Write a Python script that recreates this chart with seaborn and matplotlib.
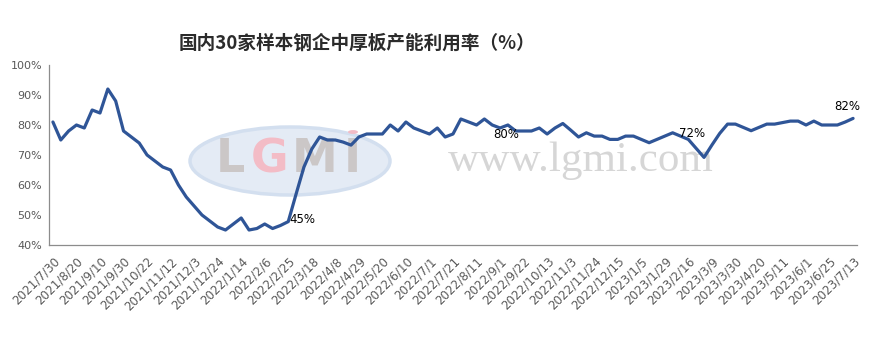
import numpy as np
import pandas as pd
import matplotlib
matplotlib.use("Agg")
import matplotlib.pyplot as plt
from matplotlib.patches import Ellipse, Circle
import seaborn as sns

# ---------------- data ----------------
values = [81, 75, 78, 80, 79, 85, 84, 92, 88, 78,
          76, 74, 70, 68, 66, 65, 60, 56, 53, 50,
          48, 46, 45, 47, 49, 45, 45.5, 47, 45.5, 46.5,
          47.8, 57, 66, 72, 76, 75, 75, 74.3, 73.3, 76,
          77, 77, 77, 80, 78, 81, 79, 78, 77, 79,
          76, 77, 82, 81, 80, 82, 80, 79, 80, 78,
          78, 78, 79, 77, 79, 80.5, 78.3, 76, 77.4, 76.3,
          76.3, 75.2, 75.2, 76.3, 76.3, 75.2, 74.1, 75.2, 76.3, 77.4,
          76.3, 75.2, 72.2, 69.2, 73.3, 77.2, 80.3, 80.3, 79.2, 78.1,
          79.2, 80.3, 80.3, 80.8, 81.3, 81.3, 80, 81.3, 80, 80,
          80, 81, 82.2]

tick_labels = ["2021/7/30", "2021/8/20", "2021/9/10", "2021/9/30", "2021/10/22",
               "2021/11/12", "2021/12/3", "2021/12/24", "2022/1/14", "2022/2/6",
               "2022/2/25", "2022/3/18", "2022/4/8", "2022/4/29", "2022/5/20",
               "2022/6/10", "2022/7/1", "2022/7/21", "2022/8/11", "2022/9/1",
               "2022/9/22", "2022/10/13", "2022/11/3", "2022/11/24", "2022/12/15",
               "2023/1/5", "2023/1/29", "2023/2/16", "2023/3/9", "2023/3/30",
               "2023/4/20", "2023/5/11", "2023/6/1", "2023/6/25", "2023/7/13"]

label_idx = [30, 57, 81, 102]
label_text = ["45%", "80%", "72%", "82%"]
label_offset_px = [(14, 2), (6, -7), (4, 6), (-6, 12)]

title = "国内30家样本钢企中厚板产能利用率（%）"

# ---------------- style ----------------
sns.set_style("white")
plt.rcParams["font.family"] = ["DejaVu Sans", "Noto Sans CJK SC"]

W, H = 871, 338
fig = plt.figure(figsize=(W / 100, H / 100), dpi=100)
ax = fig.add_axes([49 / W, 1 - 245 / H, 808 / W, 180 / H])

df = pd.DataFrame({"idx": np.arange(len(values)), "val": values})

# watermark (behind the line)
ell = Ellipse((290 / W, 1 - 161 / H), 200 / W, 68 / H, transform=fig.transFigure,
              facecolor="#e4ebf5", edgecolor="#d3dfef", linewidth=2.5, zorder=0.5,
              clip_on=False)
ax.add_artist(ell)
for ch, cx, col in [("L", 230, "#cbc7c7"), ("G", 270, "#f3bcc6"),
                    ("M", 315, "#cbc7c7"), ("I", 352, "#cbc7c7")]:
    ax.text(cx / W, 1 - 160 / H, ch, transform=fig.transFigure, ha="center",
            va="center", fontsize=33, fontweight="bold", color=col,
            family="DejaVu Sans", zorder=0.6, clip_on=False)
dot = Circle((353 / W, 1 - 132 / H), 5 / W, transform=fig.transFigure,
             facecolor="#f3bcc6", edgecolor="none", zorder=0.7, clip_on=False)
ax.add_artist(dot)
ax.text(581 / W, 1 - 171 / H, "www.lgmi.com", transform=fig.transFigure,
        ha="center", va="baseline", fontsize=31, color="#d6d6d6",
        family="Liberation Serif", zorder=0.6, clip_on=False)

sns.lineplot(data=df, x="idx", y="val", ax=ax, color="#2F5597",
             linewidth=2.3, zorder=3)

ax.set_xlim(-0.5, len(values) - 0.5)
ax.set_ylim(40, 100)
ax.set_xlabel("")
ax.set_ylabel("")

# y axis
yt = np.arange(40, 101, 10)
ax.set_yticks(yt)
ax.set_yticklabels([f"{v}%" for v in yt], fontsize=8, color="#595959")
ax.tick_params(axis="y", length=3, width=0.8, color="#8c8c8c", pad=2)

# x axis: tick marks every 2 categories between categories, labels every 3
ax.set_xticks(np.arange(-0.5, len(values) - 1, 2))
ax.set_xticklabels([])
ax.tick_params(axis="x", which="major", length=5, width=0.8, color="#8c8c8c",
               direction="out")
ax.set_xticks(np.arange(0, len(values), 3), minor=True)
ax.set_xticklabels(tick_labels, minor=True, rotation=45, ha="right",
                   rotation_mode="anchor", fontsize=8.6, color="#595959")
ax.tick_params(axis="x", which="minor", length=0, pad=7)

for s in ["top", "right"]:
    ax.spines[s].set_visible(False)
for s in ["left", "bottom"]:
    ax.spines[s].set_color("#8c8c8c")
    ax.spines[s].set_linewidth(0.9)
ax.grid(False)

for i, t, (dx, dy) in zip(label_idx, label_text, label_offset_px):
    ax.annotate(t, (i, values[i]), xytext=(dx, dy), textcoords="offset pixels",
                ha="center", va="center", fontsize=8.5, color="black", zorder=4)

fig.text(357 / W, 1 - 43 / H, title, ha="center", va="center", fontsize=13.4,
         fontweight="bold", color="#2b2b2b",
         family=["Noto Sans CJK SC", "DejaVu Sans"])

fig.savefig("out.png", dpi=100)
